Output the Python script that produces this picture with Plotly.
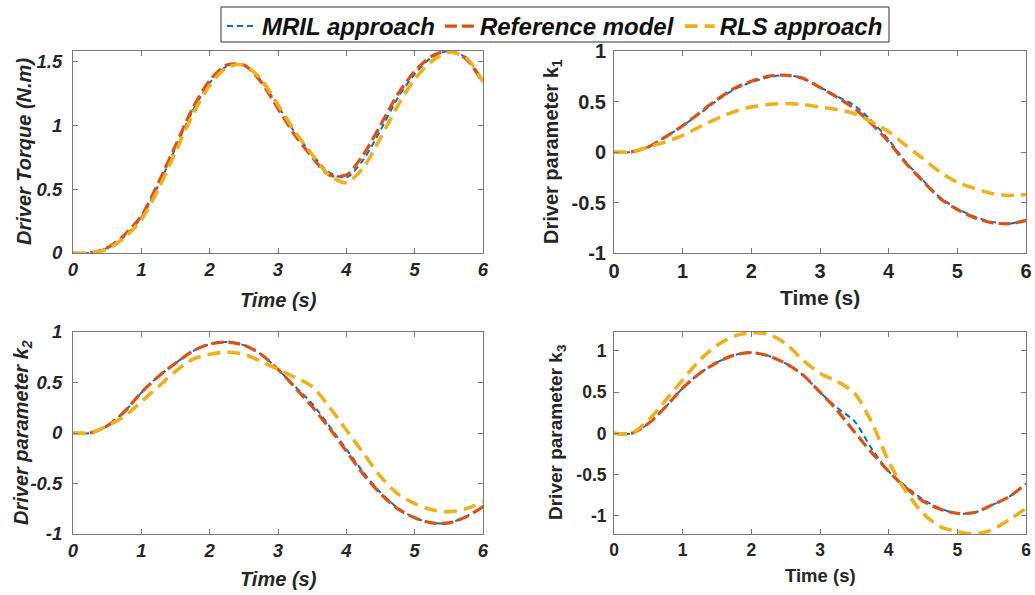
import plotly.graph_objects as go

t = [0, 0.25, 0.5, 0.75, 1, 1.25, 1.5, 1.75, 2, 2.25, 2.5, 2.75, 3, 3.25, 3.5, 3.75, 4, 4.25, 4.5, 4.75, 5, 5.25, 5.5, 5.75, 6]

# Driver torque
torque_mril = [0, 0, 0.04, 0.13, 0.28, 0.53, 0.82, 1.11, 1.33, 1.46, 1.47, 1.35, 1.15, 0.94, 0.77, 0.63, 0.59, 0.73, 0.96, 1.21, 1.40, 1.53, 1.58, 1.53, 1.34]
torque_ref = [0, 0, 0.04, 0.14, 0.29, 0.55, 0.84, 1.13, 1.35, 1.47, 1.47, 1.34, 1.13, 0.92, 0.75, 0.61, 0.61, 0.77, 1.00, 1.24, 1.42, 1.54, 1.58, 1.52, 1.33]
torque_rls = [0, 0, 0.03, 0.12, 0.26, 0.50, 0.79, 1.08, 1.31, 1.45, 1.47, 1.36, 1.16, 0.95, 0.77, 0.61, 0.55, 0.67, 0.90, 1.15, 1.36, 1.50, 1.57, 1.53, 1.34]

# Driver parameter k1
k1_mril = [0, 0, 0.05, 0.15, 0.26, 0.38, 0.51, 0.62, 0.69, 0.74, 0.76, 0.73, 0.64, 0.55, 0.46, 0.31, 0.12, -0.10, -0.28, -0.45, -0.56, -0.64, -0.69, -0.71, -0.67]
k1_ref = [0, 0, 0.05, 0.15, 0.26, 0.39, 0.52, 0.63, 0.70, 0.75, 0.76, 0.73, 0.64, 0.54, 0.43, 0.28, 0.10, -0.11, -0.29, -0.46, -0.57, -0.65, -0.70, -0.71, -0.68]
k1_rls = [0, 0, 0.05, 0.10, 0.165, 0.25, 0.33, 0.40, 0.445, 0.47, 0.48, 0.47, 0.445, 0.42, 0.38, 0.30, 0.20, 0.066, -0.066, -0.20, -0.30, -0.36, -0.41, -0.43, -0.42]

# Driver parameter k2
k2_mril = [0, 0, 0.07, 0.21, 0.40, 0.56, 0.69, 0.81, 0.88, 0.90, 0.87, 0.78, 0.63, 0.46, 0.29, 0.07, -0.16, -0.39, -0.59, -0.74, -0.84, -0.89, -0.89, -0.83, -0.72]
k2_ref = [0, 0, 0.07, 0.21, 0.40, 0.56, 0.69, 0.81, 0.88, 0.90, 0.87, 0.78, 0.63, 0.45, 0.26, 0.05, -0.18, -0.41, -0.60, -0.75, -0.84, -0.89, -0.89, -0.83, -0.73]
k2_rls = [0, 0, 0.07, 0.165, 0.31, 0.46, 0.61, 0.73, 0.78, 0.80, 0.78, 0.71, 0.63, 0.55, 0.46, 0.26, 0.03, -0.20, -0.43, -0.60, -0.70, -0.76, -0.78, -0.75, -0.68]

# Driver parameter k3
k3_mril = [0, 0, 0.12, 0.32, 0.55, 0.73, 0.86, 0.95, 0.98, 0.94, 0.85, 0.71, 0.50, 0.31, 0.15, -0.18, -0.46, -0.64, -0.80, -0.91, -0.97, -0.96, -0.87, -0.77, -0.61]
k3_ref = [0, 0, 0.12, 0.32, 0.55, 0.73, 0.86, 0.95, 0.98, 0.94, 0.85, 0.71, 0.50, 0.28, 0.02, -0.23, -0.46, -0.66, -0.82, -0.92, -0.97, -0.96, -0.87, -0.77, -0.61]
k3_rls = [0, 0, 0.16, 0.40, 0.65, 0.89, 1.07, 1.18, 1.22, 1.20, 1.09, 0.89, 0.73, 0.63, 0.49, 0.14, -0.34, -0.70, -0.97, -1.13, -1.19, -1.22, -1.17, -1.05, -0.91]

series_names = ["MRIL approach", "Reference model", "RLS approach"]
colors = ["#0072BD", "#D95319", "#EDB120"]
widths = [2, 3.2, 3.6]
dashes = ["6px,4px", "12px,5px", "13px,7px"]

panels = [
    (torque_mril, torque_ref, torque_rls),
    (k1_mril, k1_ref, k1_rls),
    (k2_mril, k2_ref, k2_rls),
    (k3_mril, k3_ref, k3_rls),
]

W, H = 1035, 595
boxes = [  # left, right, top, bottom in pixels
    (73, 483, 51, 253),
    (614, 1026, 51, 253),
    (73, 483, 332, 534),
    (614, 1026, 332, 534),
]
yranges = [[0, 1.58], [-1, 1], [-1, 1], [-1.22, 1.23]]
ytickvals = [[0, 0.5, 1, 1.5], [-1, -0.5, 0, 0.5, 1], [-1, -0.5, 0, 0.5, 1], [-1, -0.5, 0, 0.5, 1]]
yticktext = [["0", "0.5", "1", "1.5"], ["-1", "-0.5", "0", "0.5", "1"], ["-1", "-0.5", "0", "0.5", "1"], ["-1", "-0.5", "0", "0.5", "1"]]
xtickvals = [0, 1, 2, 3, 4, 5, 6]
italic = [True, False, True, False]
ytitles = ["Driver Torque (N.m)", "Driver parameter k<sub>1</sub>", "Driver parameter k<sub>2</sub>", "Driver parameter k<sub>3</sub>"]
tick_sizes = [18.5, 20, 18.5, 17.5]
xtitle_sizes = [20, 21, 20, 18.5]
ytitle_sizes = [20, 20, 20, 19]
xtitle_offsets = [47, 44, 45, 41]
ytitle_x = [24, 552, 22, 557]
standoffs = [6, 3, 6, 3]

fig = go.Figure()
FONT = "Liberation Sans, Arial, sans-serif"
axcol = "#7a7a7a"
txtcol = "#262626"

for i, data in enumerate(panels):
    xa = "x" if i == 0 else f"x{i+1}"
    ya = "y" if i == 0 else f"y{i+1}"
    for j in range(3):
        fig.add_trace(go.Scatter(
            x=t, y=data[j], mode="lines", name=series_names[j],
            line=dict(color=colors[j], width=widths[j], dash=dashes[j], shape="spline", smoothing=0.8),
            xaxis=xa, yaxis=ya, showlegend=(i == 0), legendrank=j,
        ))

layout = dict(
    width=W, height=H, margin=dict(l=0, r=0, t=0, b=0, autoexpand=False),
    paper_bgcolor="white", plot_bgcolor="white",
    showlegend=True,
    legend=dict(
        orientation="h", x=555 / W, xanchor="center", y=1 - 4 / H, yanchor="top",
        borderwidth=0, bgcolor="rgba(0,0,0,0)",
        font=dict(family=FONT, size=24, color="#111111", weight="bold", style="italic"),
        itemwidth=30, tracegroupgap=0, traceorder="normal",
    ),
    shapes=[dict(
        type="rect", xref="paper", yref="paper",
        x0=221 / W, x1=889 / W, y0=1 - 42 / H, y1=1 - 7 / H,
        line=dict(color="#333333", width=1), fillcolor="white", layer="below",
    )],
)

annotations = []
for i, (l, r, tp, bt) in enumerate(boxes):
    sfx = "" if i == 0 else str(i + 1)
    st = "italic" if italic[i] else "normal"
    tf = dict(family=FONT, size=tick_sizes[i], color=txtcol, weight="bold", style=st)
    layout["xaxis" + sfx] = dict(
        domain=[l / W, r / W], range=[0, 6], anchor="y" + sfx,
        tickvals=xtickvals, ticks="inside", ticklen=5, tickcolor=axcol,
        showline=True, linecolor=axcol, linewidth=1, mirror="ticks",
        showgrid=False, zeroline=False, automargin=False, tickfont=tf,
    )
    layout["yaxis" + sfx] = dict(
        domain=[1 - bt / H, 1 - tp / H], range=yranges[i], anchor="x" + sfx,
        tickvals=ytickvals[i], ticktext=yticktext[i], ticks="inside", ticklen=5, tickcolor=axcol,
        showline=True, linecolor=axcol, linewidth=1, mirror="ticks",
        showgrid=False, zeroline=False, automargin=False, tickfont=tf,
        ticklabelstandoff=standoffs[i],
    )
    annotations.append(dict(
        text="Time (s)", xref="paper", yref="paper",
        x=(l + r) / 2 / W, y=1 - (bt + xtitle_offsets[i]) / H, xanchor="center", yanchor="middle",
        showarrow=False,
        font=dict(family=FONT, size=xtitle_sizes[i], color=txtcol, weight="bold", style=st),
    ))
    annotations.append(dict(
        text=ytitles[i], xref="paper", yref="paper", textangle=-90,
        x=ytitle_x[i] / W, y=1 - (tp + bt) / 2 / H, xanchor="center", yanchor="middle",
        showarrow=False,
        font=dict(family=FONT, size=ytitle_sizes[i], color=txtcol, weight="bold", style=st),
    ))

layout["annotations"] = annotations
fig.update_layout(**layout)
fig.write_html(
    "out.html",
    config={"displayModeBar": False},
    post_script="document.body.style.margin='0';document.body.style.padding='0';document.body.style.overflow='hidden';",
)
